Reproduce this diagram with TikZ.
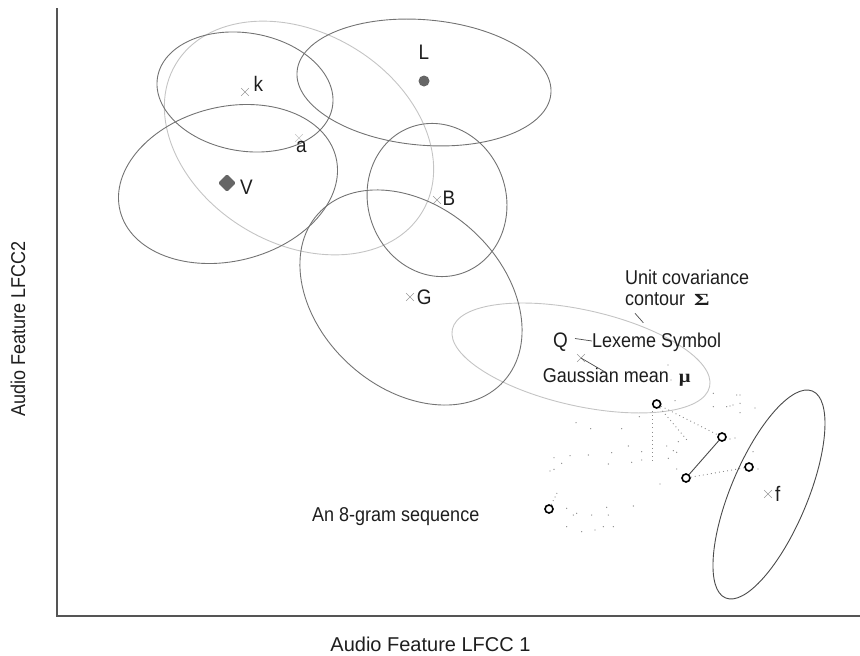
\documentclass[tikz,border=0pt]{standalone}
\usepackage{fontspec}
\setmainfont{Liberation Sans}
\newfontfamily\cfont[FakeStretch=0.9]{Liberation Sans}
\newfontfamily\gwide[FakeStretch=1.4]{Liberation Serif}
\newfontfamily\gmu[FakeStretch=1.15]{Liberation Serif}
\usetikzlibrary{shapes.misc,shapes.geometric}
\definecolor{ellgray}{HTML}{737373}
\definecolor{darkell}{HTML}{4A4A4A}
\definecolor{lightell}{HTML}{C4C4C4}
\definecolor{crossgray}{HTML}{9A9A9A}
\definecolor{txt}{HTML}{1E1E1E}
\definecolor{dotgray}{HTML}{8C8C8C}
\definecolor{axisgray}{HTML}{555555}
\definecolor{markfill}{HTML}{666666}
\begin{document}
\begin{tikzpicture}[x=1pt,y=-1pt,
  axisline/.style={draw=axisgray,line width=1.5pt},
  ell/.style={draw=ellgray,line width=0.9pt},
  lell/.style={draw=lightell,line width=0.9pt},
  dell/.style={draw=darkell,line width=0.9pt},
  xmk/.style={cross out,draw=crossgray,minimum size=7pt,inner sep=0pt,line width=0.6pt},
  dotmk/.style={circle,fill=markfill,minimum size=11pt,inner sep=0pt},
  diamk/.style={diamond,fill=markfill,minimum size=18pt,inner sep=0pt,rounded corners=1.5pt},
  lbl/.style={font=\cfont\fontsize{21}{24}\selectfont,text=txt,inner sep=0pt,anchor=base west},
  ann/.style={font=\cfont\fontsize{20}{23}\selectfont,text=txt,inner sep=0pt,anchor=base west},
  lead/.style={draw=txt!80,line width=0.7pt},
  seqpt/.style={circle,draw=black,line width=1.6pt,minimum size=8pt,inner sep=0pt},
  dotl/.style={draw=dotgray,line width=0.9pt,dash pattern=on 0.9pt off 3.2pt},
  solidl/.style={draw=darkell,line width=0.9pt}]
\useasboundingbox (0,0) rectangle (860,656);
% axes
\coordinate (ytop) at (57,8);
\coordinate (orig) at (57,616);
\coordinate (xend) at (860,616);
\draw[axisline] (ytop) -- (orig) -- (xend);
\node[font=\fontsize{20}{23}\selectfont,text=txt,inner sep=0pt,anchor=base] (xlab) at (430.5,651.7) {Audio Feature LFCC 1};
\node[font=\cfont\fontsize{20}{23}\selectfont,text=txt,inner sep=0pt,anchor=base,rotate=90] (ylab) at (25,329) {Audio Feature LFCC2};
% centres
\node[xmk] (mk) at (245,92) {};
\node[xmk,draw=lightell] (ma) at (299,138) {};
\node[xmk] (mB) at (437,200) {};
\node[xmk] (mG) at (410,297) {};
\node[xmk] (mQ) at (581,358) {};
\node[xmk] (mf) at (768,494) {};
\coordinate (cL) at (424,82.5);
\coordinate (cV) at (228,184);
\coordinate (cG) at (411,297.5);
\coordinate (cf) at (769,494.5);
% ellipses
\draw[lell,rotate around={-31:(ma)}] (ma) ellipse [x radius=143.7pt,y radius=105.5pt];
\draw[lell,rotate around={-12.6:(mQ)}] (mQ) ellipse [x radius=131.8pt,y radius=48pt];
\draw[ell,rotate around={-9.6:(mk)}] (mk) ellipse [x radius=88.7pt,y radius=59pt];
\draw[ell,rotate around={-5:(cL)}] (cL) ellipse [x radius=127.4pt,y radius=62.7pt];
\draw[ell,rotate around={14:(cV)}] (cV) ellipse [x radius=111.2pt,y radius=77.1pt];
\draw[ell,rotate around={19:(mB)}] (mB) ellipse [x radius=69pt,y radius=77.4pt];
\draw[ell,rotate around={-42:(cG)}] (cG) ellipse [x radius=125pt,y radius=91pt];
\draw[dell,rotate around={-22.8:(cf)}] (cf) ellipse [x radius=38.3pt,y radius=112.2pt];
% filled markers
\node[dotmk] (mL) at (424,81) {};
\node[diamk] (mV) at (227,183) {};
% letter labels
\node[lbl] (tk) at (253.3,91.7) {k};
\node[lbl] (ta) at (296,152.7) {a};
\node[lbl] (tL) at (418.3,59) {L};
\node[lbl] (tV) at (240,194) {V};
\node[lbl] (tB) at (442.3,205) {B};
\node[lbl] (tG) at (416.7,304) {G};
\node[lbl] (tf) at (775,501.7) {f};
% annotations
\node[ann] (tU1) at (625,284.3) {Unit covariance};
\node[ann] (tU2) at (625,305) {contour\hspace{9pt}{\gwide\bfseries\fontsize{17}{17}\selectfont Σ}};
\coordinate (u1) at (635,313.3);
\coordinate (u2) at (643.3,322.7);
\draw[lead] (u1) -- (u2);
\node[lbl] (tQ) at (553,347) {Q};
\node[ann] (tLex) at (592,347) {Lexeme Symbol};
\coordinate (q1) at (575,338.5);
\coordinate (q2) at (592,341);
\draw[lead] (q1) -- (q2);
\node[ann] (tGm) at (542.7,382.7) {Gaussian mean\hspace{10pt}{\gmu\bfseries\fontsize{18}{18}\selectfont μ}};
\coordinate (g2) at (605,372);
\draw[lead] (mQ.center) -- (g2);
\node[ann] (tSeq) at (312,521.7) {An 8-gram sequence};
% scattered dots
\foreach \p in {(576,422.7),(590.7,428.7),(621.7,428.7),(639.3,416.7),(570,455.7),(554,457.7),(561.7,463.3),(550,471),(554,469.3),(588.3,455),(611.7,452.7),(628.3,446),(641.7,451.7),(641.7,460),(631.7,462.3),(608.3,464),(666.7,446),(673.3,450.7),(676.7,452.3),(668.3,458.3),(676.7,469),(660,484),(633.3,506),(606.7,507.3),(591.7,515),(573.3,515),(566.7,508.3),(608.3,515),(566.7,526.7),(603.3,526.7),(613.3,526.7),(678.3,441.7),(713.3,406.7),(713.3,393.3),(726.7,406.7),(730,406),(740,395),(740,403.3),(740,412.7),(755,408),(753,451.7),(675,400.7),(733,405),(736.7,395),(730,439),(735,438),(758,469),(668,365),(671,380),(581.7,531.7),(595,530),(576.7,513.3)}
  \fill[dotgray] \p circle [radius=0.7pt];
% sequence points
\node[seqpt] (c1) at (656.7,404) {};
\node[seqpt] (c2) at (722,437) {};
\node[seqpt] (c3) at (686,478) {};
\node[seqpt] (c4) at (749,467) {};
\node[seqpt] (c5) at (549,509) {};
\coordinate (v1) at (652,411);
\coordinate (v2) at (652,463);
\coordinate (r1) at (687,440);
\coordinate (s5) at (557.5,492);
\draw[solidl] (c3) -- (c2);
\draw[dotl] (c1) -- (c2);
\draw[dotl] (c3) -- (c4);
\draw[dotl] (v1) -- (v2);
\draw[dotl] (c1) -- (r1);
\draw[dotl] (c5) -- (s5);
\end{tikzpicture}
\end{document}
